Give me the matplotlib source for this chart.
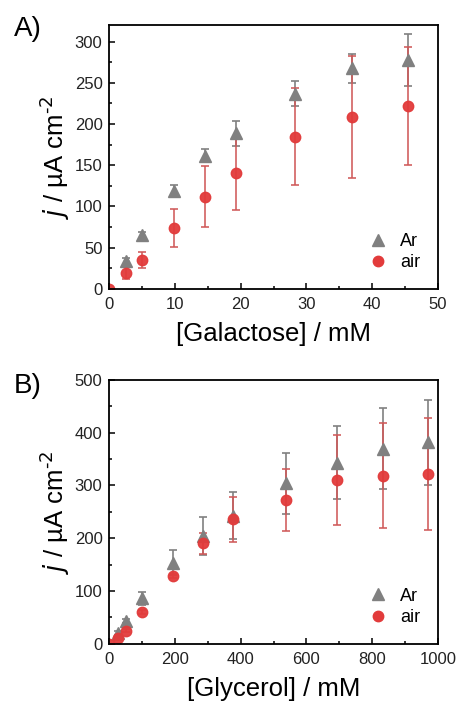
import matplotlib.pyplot as plt
from matplotlib.lines import Line2D
from matplotlib.ticker import AutoMinorLocator

plt.rcParams['font.family'] = ['Liberation Sans', 'DejaVu Sans']
plt.rcParams['axes.unicode_minus'] = False

# Panel A: galactose
gal_x_ar = [2.5, 5, 9.8, 14.6, 19.2, 28.3, 37, 45.5]
gal_ar = [33.6, 64.8, 119, 161.5, 188.7, 237, 267.6, 277.8]
gal_ar_err = [4, 4, 7.5, 8, 15, 15.5, 18, 32]
gal_x_air = [0, 2.5, 5, 9.8, 14.6, 19.2, 28.3, 37, 45.5]
gal_air = [0, 19.4, 34.8, 74, 112, 141, 184.6, 209, 222]
gal_air_err = [0, 7.7, 10, 23, 37, 45, 59, 74, 72]

# Panel B: glycerol
gly_x_ar = [25, 50, 100, 193, 284, 375, 537, 692, 834, 970]
gly_ar = [20.9, 43.6, 86, 153.6, 204.8, 242.7, 304, 343, 370, 381.7]
gly_ar_err = [4, 4, 12, 24, 36, 44, 58, 69, 77, 80]
gly_x_air = [0, 25, 50, 100, 193, 284, 375, 537, 692, 834, 970]
gly_air = [0, 10, 24.6, 60, 127.7, 190, 235.7, 271.8, 309.7, 318.5, 321]
gly_air_err = [0, 3, 3, 4, 4, 20, 43, 59, 85, 100, 106]

c_ar = '#808080'
c_air = '#e23b3b'
c_air_err = '#cf5858'

fig = plt.figure(figsize=(4.57, 7.01), dpi=100)
axA = fig.add_axes([0.2396, 0.588, 0.7184, 0.376])
axB = fig.add_axes([0.2396, 0.0817, 0.7184, 0.3763])


def draw(ax, xa, ya, ea, xr, yr, er, xlim, ylim, xlabel, xmaj, ymaj):
    ax.errorbar(xa, ya, yerr=ea, fmt='^', color=c_ar, ecolor=c_ar, ms=8,
                capsize=3, elinewidth=1.2, capthick=1.2)
    ax.errorbar(xr, yr, yerr=er, fmt='o', color=c_air, ecolor=c_air_err, ms=7.5,
                capsize=3, elinewidth=1.2, capthick=1.2, alpha=0.95)
    ax.set_xlim(*xlim)
    ax.set_ylim(*ylim)
    ax.set_xticks(xmaj)
    ax.set_yticks(ymaj)
    ax.xaxis.set_minor_locator(AutoMinorLocator(2))
    ax.yaxis.set_minor_locator(AutoMinorLocator(2))
    ax.tick_params(which='both', direction='in', labelsize=12, width=1.1,
                   labelcolor='#222222')
    ax.tick_params(which='major', length=4)
    ax.tick_params(which='minor', length=2.5)
    ax.tick_params(axis='x', which='major', pad=6)
    ax.tick_params(axis='y', which='major', pad=5)
    for s in ax.spines.values():
        s.set_linewidth(1.3)
    ax.set_xlabel(xlabel, fontsize=18.5, labelpad=7)
    ax.set_ylabel(r'$j$ / µA cm$^{\text{-2}}$', fontsize=18.5, labelpad=2)
    handles = [Line2D([], [], ls='none', marker='^', ms=8, color=c_ar),
               Line2D([], [], ls='none', marker='o', ms=7.5, color=c_air)]
    ax.legend(handles, ['Ar', 'air'], loc='lower left', frameon=False,
              fontsize=13, handletextpad=0.6, labelspacing=0.25, borderpad=0,
              handlelength=1.2, bbox_to_anchor=(0.758, 0.032))


draw(axA, gal_x_ar, gal_ar, gal_ar_err, gal_x_air, gal_air, gal_air_err,
     (0, 50), (0, 320), '[Galactose] / mM', range(0, 51, 10), range(0, 301, 50))
draw(axB, gly_x_ar, gly_ar, gly_ar_err, gly_x_air, gly_air, gly_air_err,
     (0, 1000), (0, 500), '[Glycerol] / mM', range(0, 1001, 200), range(0, 501, 100))

fig.text(0.03, 0.958, 'A)', fontsize=20, va='center')
fig.text(0.03, 0.45, 'B)', fontsize=20, va='center')

fig.savefig('out.png', dpi=100)
